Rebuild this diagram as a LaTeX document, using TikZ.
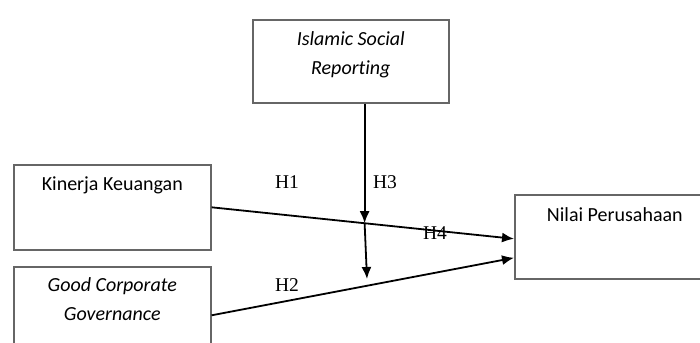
\documentclass[tikz,border=0pt]{standalone}
\usepackage{fontspec}
\setmainfont[Ligatures=NoCommon]{Carlito}
\newfontfamily\hfont{Liberation Serif}
\usepackage{tikz}
\usetikzlibrary{arrows.meta, positioning, calc}

\tikzset{
  varbox/.style={draw=black!60, line width=1.6pt, rectangle, inner sep=0pt, anchor=north west},
  vartext/.style={anchor=north, align=center, inner sep=0pt, font=\fontsize{20}{29}\selectfont},
  hyp/.style={font=\hfont\fontsize{19.5}{22}\selectfont, inner sep=0pt},
  link/.style={line width=1.8pt, -{Latex[length=12pt,width=10pt]}}
}

\begin{document}
\begin{tikzpicture}[x=1pt,y=-1pt]
\useasboundingbox (0,0) rectangle (700,342);
\clip (0,0) rectangle (700,342);

% variabel
\node [varbox, minimum width=196pt, minimum height=83pt] (isr) at (252,19) {};
\node [varbox, minimum width=197pt, minimum height=85pt] (kin) at (13,164) {};
\node [varbox, minimum width=197pt, minimum height=85pt] (gcg) at (13,266) {};
\node [varbox, minimum width=200pt, minimum height=84pt] (nil) at (514,194) {};

\node [vartext] (isrt) at ([yshift=-12pt]isr.north) {\itshape Islamic Social\\\itshape Reporting};
\node [vartext] (kint) at ([yshift=-13pt]kin.north) {Kinerja Keuangan};
\node [vartext] (gcgt) at ([yshift=-11pt]gcg.north) {\itshape Good Corporate\\\itshape Governance};
\node [vartext] (nilt) at ([yshift=-13pt]nil.north) {Nilai Perusahaan};

% hubungan
\draw [link] (kin.east) -- coordinate[pos=0.506] (m) ([yshift=-2pt]nil.west);
\draw [link] ([yshift=-6pt]gcg.east) -- ([yshift=-21pt]nil.west);
\draw [link] (isr.south -| m) -- (m);
\coordinate (h3end) at (367,279);
\draw [link] (m) -- (h3end);

\node [hyp] (h1) at (287,182) {H1};
\node [hyp] (h2) at (287,285) {H2};
\node [hyp] (h3) at (385,182) {H3};
\node [hyp] (h4) at (435,233) {H4};
\end{tikzpicture}
\end{document}
